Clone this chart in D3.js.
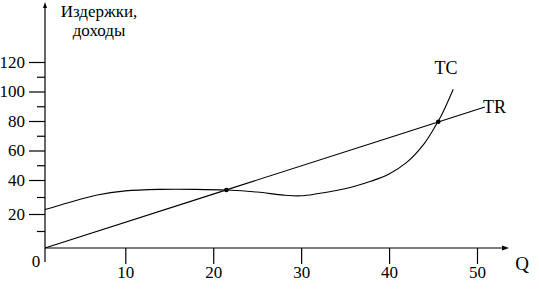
<!DOCTYPE html>
<html>
<head>
<meta charset="utf-8">
<script src="https://cdn.jsdelivr.net/npm/d3@7"></script>
<style>
  body { margin: 0; background: #fff; }
  svg text { font-family: "Liberation Serif", "DejaVu Serif", serif; fill: #000; }
  .axis text { font-size: 17px; }
  .axis line { stroke: #000; stroke-width: 1.2; }
</style>
</head>
<body>
<div id="chart"></div>
<script>
// data
const xTicks = [10, 20, 30, 40, 50];
const yTicks = [20, 40, 60, 80, 100, 120];
const yMinorTicks = [10, 30, 50, 70, 90, 110];

// total revenue (straight line)
const trQ = [0, 20, 40, 50.9];
const trV = [0, 31.7, 68.7, 89.5];

// total cost curve
const tcQ = [0, 3, 6.5, 10, 14, 18, 21.5, 25, 28, 30, 32, 34, 36, 38, 40, 42, 44, 45, 46, 47.3];
const tcV = [22.6, 26.8, 31.2, 33.6, 34.5, 34.5, 34.1, 32.9, 31.1, 30.7, 32.1, 33.8, 36.2, 39.4, 44.1, 51.9, 64.7, 73.9, 84.4, 101.5];

// intersection points of TC and TR
const crossQ = [21.5, 45.6];
const crossV = [34.1, 79.5];

const width = 539, height = 293;
const serif = '"Liberation Serif", "DejaVu Serif", serif';

const svg = d3.select("#chart")
    .append("svg")
    .attr("width", width)
    .attr("height", height);

// hand-drawn axes are not quite even, so piecewise scales
const x = d3.scaleLinear().domain([0, 10, 50]).range([45, 125.3, 477]);
const y = d3.scaleLinear().domain([0, 20, 40, 120]).range([248, 214, 180, 62]);

const x0 = x(0), y0 = y(0);

// y axis, major ticks
const yAxis = svg.append("g")
    .attr("class", "axis")
    .attr("transform", `translate(${x0},0)`)
    .call(d3.axisLeft(y).tickValues(yTicks).tickSize(16).tickSizeOuter(0).tickPadding(4));
yAxis.select(".domain").remove();

// y axis, minor ticks
const yMinor = svg.append("g")
    .attr("class", "axis")
    .attr("transform", `translate(${x0},0)`)
    .call(d3.axisLeft(y).tickValues(yMinorTicks).tickSize(8).tickFormat(""));
yMinor.select(".domain").remove();

// x axis
const xAxis = svg.append("g")
    .attr("class", "axis")
    .attr("transform", `translate(0,${y0})`)
    .call(d3.axisBottom(x).tickValues(xTicks).tickSize(16).tickSizeOuter(0).tickPadding(2));
xAxis.select(".domain").remove();

svg.selectAll(".axis")
    .attr("font-family", serif)
    .attr("font-size", 17);

// axis lines with arrows
svg.append("line")
    .attr("x1", x0).attr("y1", 262)
    .attr("x2", x0).attr("y2", 5)
    .attr("stroke", "#000").attr("stroke-width", 1.2);
svg.append("path")
    .attr("d", `M${x0},2 L${x0 - 2},8 L${x0 + 2},8 Z`)
    .attr("fill", "#000");

svg.append("line")
    .attr("x1", x0).attr("y1", y0)
    .attr("x2", 505).attr("y2", y0)
    .attr("stroke", "#000").attr("stroke-width", 1.2);
svg.append("path")
    .attr("d", `M509,${y0} L502,${y0 - 2.5} L502,${y0 + 2.5} Z`)
    .attr("fill", "#000");

// axis titles
svg.append("text")
    .attr("x", 99).attr("y", 17)
    .attr("text-anchor", "middle")
    .style("font-size", "17px")
    .text("Издержки,");
svg.append("text")
    .attr("x", 99).attr("y", 36)
    .attr("text-anchor", "middle")
    .style("font-size", "17px")
    .text("доходы");
svg.append("text")
    .attr("x", 36).attr("y", 267)
    .attr("text-anchor", "middle")
    .style("font-size", "17px")
    .text("0");
svg.append("text")
    .attr("x", 522).attr("y", 270)
    .attr("text-anchor", "middle")
    .style("font-size", "19px")
    .text("Q");

// plot
const plot = svg.append("g").attr("id", "plot");

const line = d3.line()
    .x(d => x(d[0]))
    .y(d => y(d[1]));

plot.append("path")
    .datum(d3.zip(trQ, trV))
    .attr("d", line)
    .attr("fill", "none")
    .attr("stroke", "#000")
    .attr("stroke-width", 1.1);

plot.append("path")
    .datum(d3.zip(tcQ, tcV))
    .attr("d", line.curve(d3.curveCatmullRom))
    .attr("fill", "none")
    .attr("stroke", "#000")
    .attr("stroke-width", 1.1);

plot.selectAll(".cross")
    .data(d3.zip(crossQ, crossV))
    .enter()
    .append("circle")
    .attr("class", "cross")
    .attr("cx", d => x(d[0]))
    .attr("cy", d => y(d[1]))
    .attr("r", 2.3)
    .attr("fill", "#000");

// curve labels
svg.append("text")
    .attr("x", 446).attr("y", 74)
    .attr("text-anchor", "middle")
    .style("font-size", "18px")
    .text("TC");
svg.append("text")
    .attr("x", 483).attr("y", 113)
    .style("font-size", "18px")
    .text("TR");
</script>
</body>
</html>
